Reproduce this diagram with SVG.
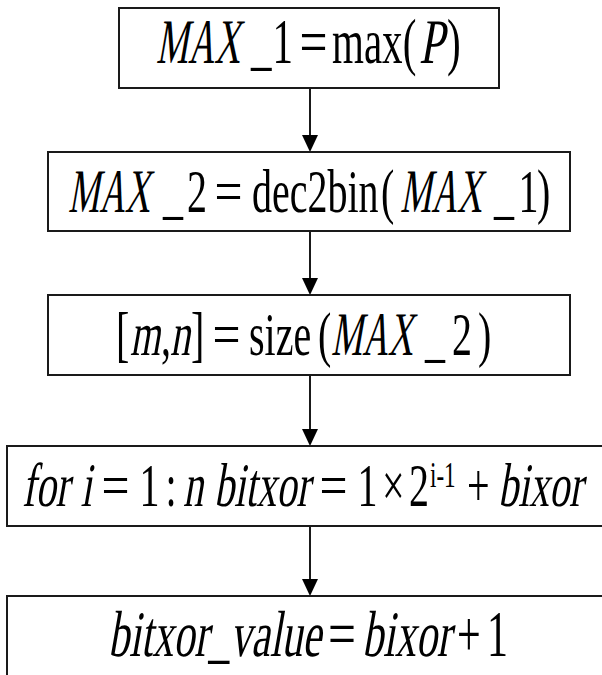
<svg xmlns="http://www.w3.org/2000/svg" width="602" height="675" viewBox="0 0 602 675">
  <style>
    .box { fill: #ffffff; stroke: #1a1a1a; stroke-width: 2; }
    .link { fill: none; stroke: #1a1a1a; stroke-width: 2; }
    .head { fill: #000000; }
    .eq text { font-family: 'Liberation Serif', 'Times New Roman', serif; fill: #000000; }
    .f40 { font-size: 40px; }
    .f41 { font-size: 41px; }
    .f42 { font-size: 42px; }
    .sup { font-size: 23px; }
  </style>

  <rect width="602" height="675" fill="#ffffff"/>

  <!-- connectors: vertical lines with filled arrowheads -->
  <g id="connectors">
    <line class="link" x1="310" y1="88" x2="310" y2="136"/>
    <polygon class="head" points="302,135 318,135 310,152"/>
    <line class="link" x1="310" y1="231" x2="310" y2="279"/>
    <polygon class="head" points="302,278 318,278 310,295"/>
    <line class="link" x1="310" y1="375" x2="310" y2="430"/>
    <polygon class="head" points="302,429 318,429 310,446"/>
    <line class="link" x1="310" y1="526" x2="310" y2="580"/>
    <polygon class="head" points="302,579 318,579 310,596"/>
  </g>

  <!-- step 1: MAX_1 = max(P); italic runs are slanted with skewX -->
  <g id="step1">
    <rect class="box" x="119" y="8" width="380" height="80"/>
    <g class="eq f41" transform="translate(0,63) scale(1,1.55)">
      <text transform="translate(156 0) skewX(-15)" textLength="84" lengthAdjust="spacingAndGlyphs">MAX</text>
      <text x="251" textLength="20.5" lengthAdjust="spacingAndGlyphs">_</text>
      <text x="272.5" textLength="20.5" lengthAdjust="spacingAndGlyphs">1</text>
      <text x="299.5" textLength="28" lengthAdjust="spacingAndGlyphs">=</text>
      <text x="332" textLength="84.3" lengthAdjust="spacingAndGlyphs">max(</text>
      <text transform="translate(419 0) skewX(-15)" textLength="25" lengthAdjust="spacingAndGlyphs">P</text>
      <text x="447" textLength="13.7" lengthAdjust="spacingAndGlyphs">)</text>
    </g>
  </g>

  <!-- step 2: MAX_2 = dec2bin(MAX_1) -->
  <g id="step2">
    <rect class="box" x="48" y="152" width="522" height="79"/>
    <g class="eq f40" transform="translate(0,212) scale(1,1.55)">
      <text transform="translate(68 0) skewX(-15)" textLength="82" lengthAdjust="spacingAndGlyphs">MAX</text>
      <text x="163" textLength="20" lengthAdjust="spacingAndGlyphs">_</text>
      <text x="187" textLength="20" lengthAdjust="spacingAndGlyphs">2</text>
      <text x="214.5" textLength="28" lengthAdjust="spacingAndGlyphs">=</text>
      <text x="252" textLength="126.6" lengthAdjust="spacingAndGlyphs">dec2bin</text>
      <text x="381" textLength="13.3" lengthAdjust="spacingAndGlyphs">(</text>
      <text transform="translate(400 0) skewX(-15)" textLength="82" lengthAdjust="spacingAndGlyphs">MAX</text>
      <text x="494" textLength="20" lengthAdjust="spacingAndGlyphs">_</text>
      <text x="518.5" textLength="20" lengthAdjust="spacingAndGlyphs">1</text>
      <text x="537" textLength="13.3" lengthAdjust="spacingAndGlyphs">)</text>
    </g>
  </g>

  <!-- step 3: [m,n] = size(MAX_2) -->
  <g id="step3">
    <rect class="box" x="48" y="295" width="522" height="80"/>
    <g class="eq f40" transform="translate(0,355) scale(1,1.55)">
      <text x="116" textLength="13.3" lengthAdjust="spacingAndGlyphs">[</text>
      <text transform="translate(130 0) skewX(-15)" textLength="30" lengthAdjust="spacingAndGlyphs">m</text>
      <text x="161" textLength="10" lengthAdjust="spacingAndGlyphs">,</text>
      <text transform="translate(170 0) skewX(-15)" textLength="20" lengthAdjust="spacingAndGlyphs">n</text>
      <text x="191" textLength="13.3" lengthAdjust="spacingAndGlyphs">]</text>
      <text x="212.5" textLength="28" lengthAdjust="spacingAndGlyphs">=</text>
      <text x="249" textLength="62.2" lengthAdjust="spacingAndGlyphs">size</text>
      <text x="318" textLength="13.3" lengthAdjust="spacingAndGlyphs">(</text>
      <text transform="translate(331 0) skewX(-15)" textLength="82" lengthAdjust="spacingAndGlyphs">MAX</text>
      <text x="425" textLength="20" lengthAdjust="spacingAndGlyphs">_</text>
      <text x="452" textLength="20" lengthAdjust="spacingAndGlyphs">2</text>
      <text x="478" textLength="13.3" lengthAdjust="spacingAndGlyphs">)</text>
    </g>
  </g>

  <!-- step 4: for i = 1:n  bitxor = 1 x 2^(i-1) + bixor -->
  <g id="step4">
    <rect class="box" x="7" y="446" width="610" height="80"/>
    <g class="eq f40" transform="translate(0,506) scale(1,1.55)">
      <text transform="translate(22 0) skewX(-15)" textLength="47" lengthAdjust="spacingAndGlyphs">for</text>
      <text transform="translate(80.5 0) skewX(-15)" textLength="11" lengthAdjust="spacingAndGlyphs">i</text>
      <text x="101.5" textLength="28" lengthAdjust="spacingAndGlyphs">=</text>
      <text x="139.5" textLength="20" lengthAdjust="spacingAndGlyphs">1</text>
      <text x="165.5" textLength="11.1" lengthAdjust="spacingAndGlyphs">:</text>
      <text transform="translate(183 0) skewX(-15)" textLength="20" lengthAdjust="spacingAndGlyphs">n</text>
      <text transform="translate(214 0) skewX(-15)" textLength="95.6" lengthAdjust="spacingAndGlyphs">bitxor</text>
      <text x="319.6" textLength="28" lengthAdjust="spacingAndGlyphs">=</text>
      <text x="357.6" textLength="20" lengthAdjust="spacingAndGlyphs">1</text>
      <text x="382" textLength="22.6" lengthAdjust="spacingAndGlyphs">×</text>
      <text x="409" textLength="20" lengthAdjust="spacingAndGlyphs">2</text>
      <text class="sup" x="430" y="-12" textLength="25.6" lengthAdjust="spacingAndGlyphs">i-1</text>
      <text x="467" textLength="22.6" lengthAdjust="spacingAndGlyphs">+</text>
      <text transform="translate(498 0) skewX(-15)" textLength="84.4" lengthAdjust="spacingAndGlyphs">bixor</text>
    </g>
  </g>

  <!-- step 5: bitxor_value = bixor + 1 -->
  <g id="step5">
    <rect class="box" x="7" y="596" width="610" height="100"/>
    <g class="eq f42" transform="translate(0,656) scale(1,1.55)">
      <text transform="translate(108 0) skewX(-15)" textLength="100.3" lengthAdjust="spacingAndGlyphs">bitxor</text>
      <text x="208.3" textLength="21" lengthAdjust="spacingAndGlyphs">_</text>
      <text transform="translate(230 0) skewX(-15)" textLength="91" lengthAdjust="spacingAndGlyphs">value</text>
      <text x="328" textLength="28" lengthAdjust="spacingAndGlyphs">=</text>
      <text transform="translate(362 0) skewX(-15)" textLength="88.7" lengthAdjust="spacingAndGlyphs">bixor</text>
      <text x="457" textLength="23.7" lengthAdjust="spacingAndGlyphs">+</text>
      <text x="487" textLength="21" lengthAdjust="spacingAndGlyphs">1</text>
    </g>
  </g>
</svg>
